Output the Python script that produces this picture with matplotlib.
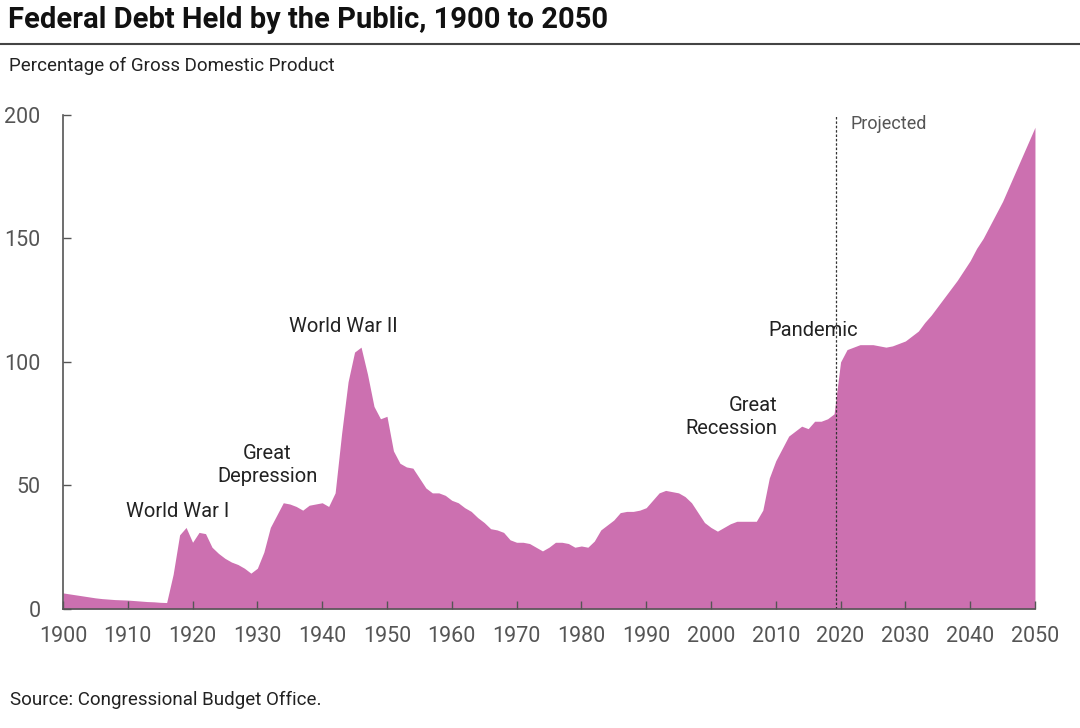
import numpy as np
import matplotlib.pyplot as plt

# Debt held by the public, % of GDP
years = list(range(1900, 2051))
debt_1900s = [6.5, 6.1, 5.7, 5.3, 4.9, 4.5, 4.2, 4.0, 3.8, 3.7]
debt_1910s = [3.6, 3.4, 3.2, 3.0, 2.9, 2.7, 2.6, 14, 30, 33]
debt_1920s = [27, 31, 30.5, 25, 22.5, 20.5, 19, 18, 16.5, 14.5]
debt_1930s = [16.5, 23, 33, 38, 43, 42.5, 41.5, 40, 42, 42.5]
debt_1940s = [43, 41.5, 47, 71, 92, 104, 106, 95, 82, 77]
debt_1950s = [78, 64, 59, 57.5, 57, 53, 49, 47, 47, 46]
debt_1960s = [44, 43, 41, 39.5, 37, 35, 32.5, 32, 31, 28]
debt_1970s = [27, 27, 26.5, 25, 23.5, 25, 27, 27, 26.5, 25]
debt_1980s = [25.5, 25, 27.5, 32, 34, 36, 39, 39.5, 39.5, 40]
debt_1990s = [41, 44, 47, 48, 47.5, 47, 45.5, 43, 39, 35]
debt_2000s = [33, 31.5, 33, 34.5, 35.5, 35.5, 35.5, 35.5, 40, 53]
debt_2010s = [60, 65, 70, 72, 74, 73, 76, 76, 77, 79]
debt_2020s = [100, 105, 106, 107, 107, 107, 106.5, 106, 106.5, 107.5]
debt_2030s = [108.5, 110.5, 112.5, 116, 119, 122.5, 126, 129.5, 133, 137]
debt_2040s = [141, 146, 150, 155, 160, 165, 171, 177, 183, 189, 195]

debt = (debt_1900s + debt_1910s + debt_1920s + debt_1930s + debt_1940s
        + debt_1950s + debt_1960s + debt_1970s + debt_1980s + debt_1990s
        + debt_2000s + debt_2010s + debt_2020s + debt_2030s + debt_2040s)

projection_start = 2019.3

# annotations: (text, x, y, ha)
events = [
    ("World War I", 1917.7, 39.3, "center"),
    ("Great\nDepression", 1931.5, 58.3, "center"),
    ("World War II", 1943.2, 114.2, "center"),
    ("Great\nRecession", 2010.3, 77.7, "right"),
    ("Pandemic", 2015.7, 112.6, "center"),
]

plt.rcParams['font.family'] = ['Roboto', 'DejaVu Sans']

fig = plt.figure(figsize=(10.8, 7.28), dpi=100)
ax = fig.add_axes([0.0583, 0.1635, 0.9, 0.6786])

ax.fill_between(years, debt, 0, color='#cc70b0', linewidth=0)
ax.axvline(projection_start, color='#333333', linestyle=(0, (2, 1.5)), linewidth=0.9)

for label, x, y, ha in events:
    ax.text(x, y, label, ha=ha, va='center', multialignment=ha,
            fontsize=14.5, color='#222222', linespacing=1.25)
ax.text(2021.6, 196.4, "Projected", ha='left', va='center', fontsize=13, color='#555555')

ax.set_xlim(1900, 2050)
ax.set_ylim(0, 200)
ax.set_xticks(range(1900, 2051, 10))
ax.set_yticks(range(0, 201, 50))
ax.tick_params(direction='in', length=6, width=1, colors='#555555',
               labelsize=15.5)
ax.tick_params(axis='x', pad=12)
ax.tick_params(axis='y', pad=16)
for side in ['top', 'right']:
    ax.spines[side].set_visible(False)
for side in ['left', 'bottom']:
    ax.spines[side].set_color('#555555')
    ax.spines[side].set_linewidth(1.2)

fig.text(0.007, 0.973, "Federal Debt Held by the Public, 1900 to 2050",
         ha='left', va='center', fontsize=21, fontweight='bold', color='#111111')
fig.add_artist(plt.Line2D([0, 1], [0.94, 0.94], color='#444444', linewidth=1.5))
fig.text(0.008, 0.909, "Percentage of Gross Domestic Product",
         ha='left', va='center', fontsize=13.5, color='#222222')
fig.text(0.009, 0.038, "Source: Congressional Budget Office.",
         ha='left', va='center', fontsize=13.5, color='#222222')

fig.savefig('out.png', dpi=100)
